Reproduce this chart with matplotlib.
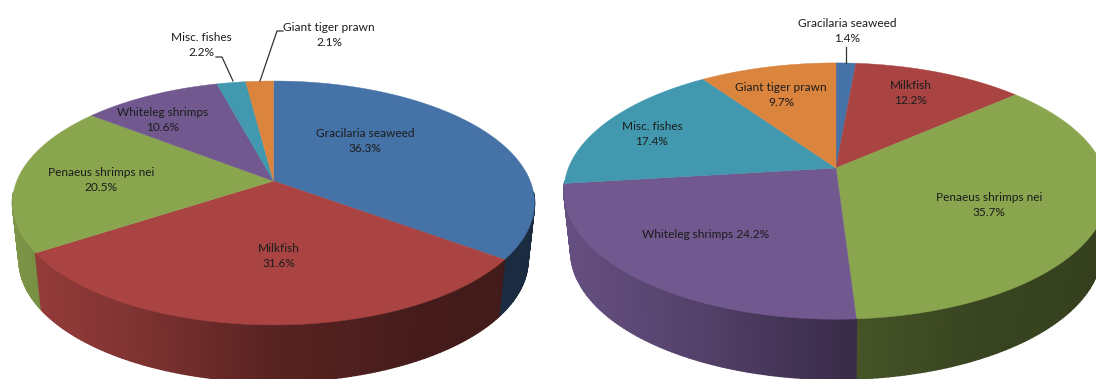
import numpy as np
import matplotlib
matplotlib.use("Agg")
import matplotlib.pyplot as plt
from matplotlib.collections import PolyCollection
from matplotlib.colors import to_rgb

# Data
left_names = ["Gracilaria seaweed", "Milkfish", "Penaeus shrimps nei",
              "Whiteleg shrimps", "Misc. fishes", "Giant tiger prawn"]
left_values = [36.3, 31.6, 20.5, 10.6, 2.2, 2.1]
right_names = ["Gracilaria seaweed", "Milkfish", "Penaeus shrimps nei",
               "Whiteleg shrimps", "Misc. fishes", "Giant tiger prawn"]
right_values = [1.4, 12.2, 35.7, 24.2, 17.4, 9.7]

# Styles / layout
colors = ["#4572A7", "#A94442", "#89A54E", "#71588F", "#4198AF", "#DB843D"]
left_label_pos = [(365, 141), (279, 256), (101, 180), (163, 120), (201, 45), (329, 35)]
right_label_pos = [(847, 31), (911, 93), (989, 205), (706, 235), (652, 134), (781, 95)]
K = 0.18
plt.rcParams["font.family"] = ["Lato", "DejaVu Sans"]

fig = plt.figure(figsize=(10.96, 3.79), dpi=100)
ax = fig.add_axes([0, 0, 1, 1])
ax.set_xlim(0, 1096)
ax.set_ylim(379, 0)
ax.axis("off")


def shade(t):
    return np.interp(t, [-1, -0.5, 0, 0.5, 1], [0.9, 0.74, 0.52, 0.42, 0.38])


def project(theta, cx, cy, a, b):
    u, v = np.sin(theta), np.cos(theta)
    w = 1 + K * v
    return cx + b * u / w, cy - a * v / w


def draw_pie(values, cx, cy, a, b, depth, squeeze=0.975):
    fractions = np.array(values) / np.sum(values)
    edges = np.concatenate([[0], np.cumsum(fractions)]) * 2 * np.pi
    quads = []
    for i in range(len(values)):
        th = np.linspace(edges[i], edges[i + 1], max(3, int(fractions[i] * 360) + 2))
        base = np.array(to_rgb(colors[i]))
        x, y = project(th, cx, cy, a, b)
        x2 = cx + (x - cx) * squeeze
        y2 = y + depth
        for j in range(len(th) - 1):
            if np.cos((th[j] + th[j + 1]) / 2) > -0.1:
                continue  # back of the drum: hidden by the top face
            f = shade(((x[j] + x[j + 1]) / 2 - cx) / (b * 1.016))
            quads.append(((y[j] + y[j + 1]) / 2,
                          [(x[j], y[j]), (x[j + 1], y[j + 1]), (x2[j + 1], y2[j + 1]), (x2[j], y2[j])],
                          tuple(base * f)))
    quads.sort(key=lambda q: q[0])
    polys = [q[1] for q in quads]
    cols = [q[2] for q in quads]
    ax.add_collection(PolyCollection(polys, facecolors=cols, edgecolors=cols,
                                     linewidths=1.1, zorder=1))
    for i in range(len(values)):
        th = np.linspace(edges[i], edges[i + 1], max(3, int(fractions[i] * 720) + 2))
        x, y = project(th, cx, cy, a, b)
        ax.fill(np.r_[cx, x], np.r_[cy, y], facecolor=colors[i],
                edgecolor=colors[i], linewidth=0.3, zorder=2)


def labels(names, values, pos, single=()):
    for i, (n, v, p) in enumerate(zip(names, values, pos)):
        s = f"{n} {v}%" if i in single else f"{n}\n{v}%"
        ax.text(p[0], p[1], s, ha="center", va="center", fontsize=8.6,
                color="#1c1c1c", linespacing=1.35, zorder=4)


draw_pie(left_values, 273.5, 181, 118, 256.7, 57)
draw_pie(right_values, 836, 168, 124, 267.6, 60)
labels(left_names, left_values, left_label_pos)
labels(right_names, right_values, right_label_pos, single=(3,))

for xs, ys in [([216, 222, 233], [57, 57, 81]),
               ([283, 277, 260], [31, 31, 81]),
               ([846, 846], [47, 63])]:
    ax.plot(xs, ys, color="#333333", lw=0.9, zorder=3)

fig.savefig("out.png", dpi=100, facecolor="white")
